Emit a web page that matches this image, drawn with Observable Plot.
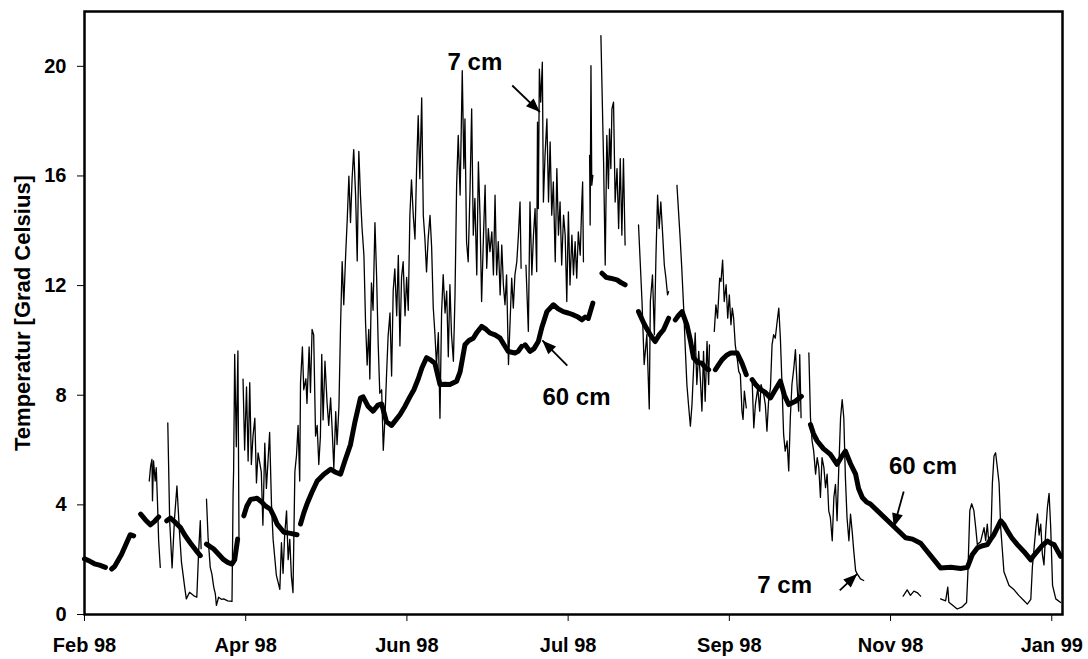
<!DOCTYPE html>
<html><head><meta charset="utf-8">
<script src="https://cdn.jsdelivr.net/npm/d3@7"></script>
<script src="https://cdn.jsdelivr.net/npm/@observablehq/plot@0.6"></script>
<style>
body{margin:0;background:#fff;}
#chart svg{display:block;}
</style></head><body><div id="chart"></div>
<script>
// ---- data (x = days after the start date, y = temperature in °C; null = no data) ----
const startDate = "1998-02-01";
const endDay = 364;
const xTickDays = [0, 60, 120, 180, 240, 300, 360];
const xTickLabels = ["Feb 98", "Apr 98", "Jun 98", "Jul 98", "Sep 98", "Nov 98", "Jan 99"];
const yTicks = [0, 4, 8, 12, 16, 20];
const yTitle = "Temperatur [Grad Celsius]";

// 7 cm depth (thin line)
const depth7cm = [
[24.1,4.87],[24.6,5.4],[25.1,5.66],[25.3,4.15],[25.7,5.6],[26.3,4.87],[26.7,5.36],[27.2,4.0],[27.6,2.69],[28.2,1.72],null,
[31.0,6.99],[31.7,3.42],[32.6,1.7],[33.5,3.5],[34.4,4.69],[35.4,2.93],[36.1,1.9],[37.3,0.99],[37.9,0.57],[39.1,0.81],[40.6,0.69],[41.8,0.63],[42.5,2.33],[43.1,3.42],[43.4,2.4],null,
[45.4,4.21],[46.0,2.8],[46.8,1.72],[47.4,1.48],[48.1,1.0],[48.7,0.75],[49.1,0.33],[49.9,0.63],[51.1,0.55],[51.8,0.57],[53.3,0.5],[54.9,0.48],[55.3,4.39],[55.5,5.24],[55.9,9.49],[56.5,6.12],[57.1,9.62],[57.5,2.74],null,
[59.0,8.59],[59.6,6.0],[60.3,8.3],[60.9,5.6],[61.5,8.46],[62.1,5.47],[62.7,6.5],[63.4,7.16],[64.0,4.8],[64.6,5.9],[65.8,5.2],[66.4,3.26],[67.1,6.25],[67.7,4.6],[68.3,5.6],[68.9,6.64],[69.6,4.0],[70.2,2.74],[71.4,1.44],[72.7,0.92],[73.3,2.62],[73.9,1.5],[74.5,2.9],[75.2,3.78],[75.8,2.0],[76.4,2.74],[77.0,1.4],[77.6,0.8],[78.3,5.21],[78.9,5.8],[79.5,6.9],[80.1,4.87],[80.4,8.46],[81.1,9.76],[81.6,8.2],[82.4,8.6],[82.8,7.7],[83.6,9.76],[84.1,8.1],[84.7,10.4],[85.3,10.2],[86.0,6.51],[86.6,6.9],[87.2,5.47],[87.8,6.5],[88.3,9.49],[88.8,7.1],[89.5,9.24],[90.3,7.7],[90.9,6.9],[91.6,7.9],[92.2,6.7],[92.8,5.34],[93.5,7.4],[94.0,6.2],[94.7,7.6],[95.3,10.53],[95.9,12.87],[96.5,11.3],[97.2,13.13],[97.8,14.43],[98.4,15.99],[99.0,14.3],[99.6,15.9],[100.2,16.96],[100.9,15.3],[101.5,12.9],[102.1,16.9],[102.7,15.3],[103.3,14.1],[104.0,13.1],[104.6,10.66],[105.2,9.1],[105.8,10.4],[106.2,8.59],[106.8,12.1],[107.4,11.1],[108.1,14.3],[108.7,12.4],[109.3,9.9],[109.9,8.07],[110.6,8.2],[111.2,5.99],[111.8,7.1],[112.4,8.7],[113.0,10.15],[113.7,11.0],[114.3,8.7],[114.9,11.83],[115.5,12.61],[116.2,10.9],[116.8,13.1],[117.4,9.8],[118.0,12.3],[118.6,12.87],[119.3,10.9],[119.9,12.3],[120.5,11.1],[121.1,14.56],[121.7,15.86],[122.4,14.5],[123.0,13.7],[123.6,16.25],[124.2,18.2],[124.8,15.9],[125.5,18.85],[126.1,14.56],[126.7,13.7],[127.3,12.5],[127.9,13.7],[128.6,14.56],[129.2,13.4],[129.8,11.2],[130.4,10.28],[131.0,9.1],[131.7,10.28],[132.3,7.16],[132.9,11.0],[133.5,12.4],[134.2,11.0],[134.8,11.8],[135.4,9.4],[136.0,12.03],[136.6,10.21],[137.3,9.24],[137.9,11.66],[138.5,15.66],[139.1,17.48],[139.8,15.3],[140.6,19.84],[141.2,16.27],[141.6,18.08],[142.2,13.6],[142.8,12.87],[143.5,15.54],[144.1,18.45],[144.7,13.84],[145.3,15.18],[146.0,12.39],[146.6,16.51],[147.2,14.57],[147.8,11.42],[148.5,13.84],[149.1,15.66],[149.7,12.63],[150.3,14.08],[150.9,13.24],[151.6,13.96],[152.2,12.39],[152.8,15.3],[153.4,12.39],[154.0,13.6],[154.7,11.66],[155.3,13.48],[155.9,12.03],[156.5,11.3],[157.1,12.39],[157.8,9.12],[158.4,10.69],[159.0,12.27],[159.6,11.18],[160.2,12.39],[160.9,12.87],[161.5,13.84],[162.1,15.05],[162.5,12.63],null,
[164.3,12.75],[165.2,10.33],[165.8,15.05],[166.5,12.39],[167.1,13.84],[167.7,14.81],[168.3,12.51],[168.6,17.96],[168.9,14.81],[169.3,19.9],[169.8,18.69],[170.4,20.15],[170.8,15.05],[171.4,16.75],[172.1,18.08],[172.7,15.05],[173.3,17.24],[173.9,14.57],[174.5,15.78],[175.2,12.87],[175.8,16.27],[176.4,13.84],[177.0,15.05],[177.6,12.75],[178.3,14.57],[178.9,13.84],[179.5,11.42],[180.1,14.69],[180.7,12.02],[181.4,13.84],[182.0,12.39],[182.6,13.6],[183.2,12.27],[183.8,13.96],[184.5,13.11],[185.1,15.05],[185.4,15.78],[185.7,12.87],null,
[188.0,16.75],[188.2,14.21],[188.5,20.02],[188.8,15.66],[189.2,16.02],null,
[192.2,21.12],[193.2,16.51],[193.8,12.75],[194.4,17.48],[195.0,15.54],[195.4,17.72],[195.9,16.27],[196.3,18.45],[196.9,18.69],[197.5,15.05],[198.2,16.27],[198.8,14.08],[199.4,16.63],[200.0,13.84],[200.6,16.63],[201.2,13.48],null,
[206.2,14.21],[207.5,11.42],[208.3,9.12],[209.3,10.21],[210.2,7.5],[210.6,11.42],[211.4,12.39],[212.1,10.21],[212.7,13.11],[213.3,15.3],[213.9,14.08],[214.5,15.05],[215.2,13.84],[215.8,12.75],[216.4,12.27],[217.0,11.66],[217.4,11.78],null,
[220.5,15.66],[221.1,14.69],[221.7,13.72],[222.3,12.63],[223.0,11.18],[223.6,9.72],[224.2,8.39],[224.8,7.66],[225.5,6.87],[226.1,7.66],[226.7,8.99],[227.3,10.27],[227.9,8.39],[228.6,9.6],[229.2,8.63],[229.8,7.42],[230.4,9.6],[231.0,7.78],[231.7,9.96],[232.3,8.39],[232.6,9.84],null,
[234.4,10.33],[235.0,11.3],[235.6,10.81],[236.4,12.27],[236.9,12.15],[237.5,12.93],[238.1,11.42],[238.8,12.03],[239.4,10.81],[240.0,11.66],[240.6,10.57],[241.1,11.18],[241.6,10.81],[242.2,9.84],[242.9,9.36],[243.5,8.87],[244.1,8.75],[244.7,7.42],[245.1,7.12],[245.6,8.15],[246.3,7.54],null,
[248.5,8.51],[249.1,6.81],[249.7,7.66],[250.6,8.27],[251.3,7.42],[251.8,8.39],[252.8,8.03],[253.4,7.66],[254.0,6.69],[254.6,7.78],[255.3,8.27],[255.9,9.84],[256.5,10.21],[257.1,10.08],[257.8,10.69],[258.4,11.18],[259.0,10.08],[259.6,8.39],[260.2,6.57],[260.8,5.96],[261.5,6.33],[262.1,5.24],[262.7,7.18],[263.3,8.39],[264.0,8.99],[264.6,9.66],[265.2,8.39],[265.8,7.42],[266.2,9.48],[266.7,7.18],null,
[269.6,9.54],[270.2,7.18],[270.8,6.33],[271.4,5.96],[272.1,5.12],[272.7,5.72],[273.3,5.36],[273.9,4.27],[274.5,5.72],[275.2,5.36],[275.8,4.63],[276.4,5.12],[277.0,3.78],[277.6,3.54],[278.3,2.69],[278.9,4.27],[279.5,4.75],[280.1,3.42],[280.7,5.24],[281.4,7.18],[282.0,7.84],[282.6,7.18],[283.2,4.99],[283.8,3.54],[284.5,2.69],[285.1,3.66],[285.7,3.05],[286.3,2.33],[287.0,1.6],[287.6,1.48],[288.8,1.3],[290.0,1.24],null,
[304.7,0.67],[306.2,0.9],[307.4,0.7],[308.7,0.85],[309.9,0.8],[311.2,0.67],null,
[318.6,0.57],[320.5,0.5],[321.3,1.0],[321.7,0.45],[323.0,0.35],[324.8,0.2],[326.7,0.28],[328.3,0.44],[328.8,1.56],[329.5,3.79],[330.2,4.04],[331.0,3.8],[331.7,3.17],[332.3,2.55],[333.5,2.65],[334.8,3.17],[335.4,2.7],[336.0,3.3],[336.6,2.6],[337.3,2.7],[337.9,4.79],[338.5,5.78],[339.1,5.9],[339.7,5.4],[340.4,4.79],[341.0,3.17],[342.2,1.56],[344.1,1.06],[346.0,0.9],[347.8,0.69],[349.7,0.5],[350.9,0.38],[352.2,0.55],[352.8,1.74],[353.4,2.4],[354.1,3.17],[354.7,3.67],[355.3,2.9],[355.9,3.3],[356.5,2.2],[357.1,1.81],[357.8,3.1],[358.4,3.92],[359.0,4.42],[359.6,3.2],[360.3,1.06],[361.5,0.57],[363.3,0.44]
];

// 60 cm depth (thick line)
const depth60cm = [
[0,2.03],[1.9,1.95],[3.7,1.85],[5.6,1.8],[7.8,1.72],null,
[10.1,1.66],[11.2,1.75],[13.8,2.2],[17.0,2.91],[18.3,2.87],null,
[20.9,3.66],[22.7,3.45],[24.5,3.27],[26.1,3.4],[27.6,3.56],null,
[30.6,3.42],[32.0,3.52],[33.9,3.35],[35.7,3.17],[37.3,2.9],[39.4,2.61],[41.4,2.35],[43.1,2.15],null,
[45.4,2.57],[48.1,2.39],[49.9,2.2],[51.8,2.0],[53.3,1.9],[54.9,1.84],[55.9,2.0],[57.0,2.75],null,
[59.3,3.6],[60.4,3.95],[61.8,4.2],[64.2,4.24],[66.0,4.1],[67.3,3.96],[69.2,3.84],[70.4,3.6],[71.7,3.3],[74.2,3.0],[76.7,2.96],[79.1,2.91],null,
[80.4,3.3],[81.6,3.7],[82.8,4.03],[84.6,4.45],[86.6,4.87],[89.1,5.12],[91.6,5.3],[93.2,5.2],[95.3,5.12],[96.9,5.6],[99.0,6.2],[100.6,7.0],[102.7,7.9],[103.7,7.94],[105.5,7.6],[107.4,7.42],[109.2,7.64],[110.6,7.68],[112.4,7.03],[114.3,6.9],[115.9,7.1],[117.4,7.29],[119.3,7.6],[121.1,7.94],[122.6,8.2],[124.2,8.59],[125.6,9.0],[127.3,9.37],[128.6,9.3],[130.4,9.17],[132.3,8.39],[134.2,8.4],[136.0,8.39],[138.5,8.51],[139.8,8.85],[141.6,9.84],[143.1,10.0],[144.7,10.08],[146.1,10.3],[147.8,10.51],[149.5,10.4],[150.9,10.27],[152.8,10.2],[154.7,10.08],[156.1,9.85],[157.7,9.6],[160.2,9.54],[161.4,9.6],[162.7,9.78],null,
[164.0,9.84],[165.8,9.6],[167.3,9.7],[168.9,9.96],[170.3,10.5],[172.1,11.05],[174.5,11.3],[176.3,11.15],[178.2,11.05],[180.0,11.0],[182.0,10.93],[183.7,10.85],[185.1,10.75],[186.3,10.85],null,
[187.5,10.8],[189.2,11.36],null,
[192.6,12.45],[194.2,12.3],[195.7,12.27],[198.2,12.21],[199.8,12.1],[201.2,12.03],null,
[206.2,11.05],[208.3,10.6],[210.6,10.2],[212.4,9.96],[213.9,10.2],[215.5,10.39],[217.4,10.81],null,
[219.9,10.75],[221.0,10.9],[222.4,11.05],[224.2,10.57],[225.5,10.0],[226.7,9.36],[228.1,9.2],[229.8,9.17],[231.1,9.0],[232.3,8.93],null,
[234.8,8.93],[235.9,9.1],[237.3,9.3],[238.9,9.45],[240.4,9.54],[242.9,9.54],[244.7,9.17],[246.3,8.75],null,
[248.5,8.57],[249.7,8.4],[251.5,8.21],[253.4,8.1],[255.3,7.9],[257.1,8.2],[259.0,8.51],[260.5,8.0],[262.1,7.66],[264.6,7.78],[266.8,7.96],null,
[270.2,6.93],[271.3,6.6],[272.7,6.33],[275.0,6.05],[277.6,5.84],[280.1,5.48],[281.7,5.75],[283.2,5.96],[285.1,5.5],[287.0,5.12],[288.1,4.6],[289.5,4.27],[291.1,4.1],[292.5,4.03],[305.6,2.8],[308.2,2.75],[311.2,2.6],[318.6,1.7],[322.4,1.72],[326.1,1.68],[328.6,1.72],[330.4,2.18],[332.3,2.43],[333.9,2.5],[336.0,2.55],[337.3,2.75],[338.5,2.92],[339.9,3.2],[341.0,3.42],[342.1,3.3],[343.5,3.05],[345.1,2.8],[347.2,2.55],[349.6,2.3],[352.2,1.99],[353.3,2.15],[354.7,2.31],[356.3,2.5],[358.4,2.68],[359.6,2.6],[360.9,2.55],[362.3,2.3],[363.3,2.12]
];

// annotations (positions in data units: day, °C)
const labelTexts = ["7 cm", "60 cm", "60 cm", "7 cm"];
const labelDays  = [145.3, 183.1, 312.1, 260.6];
const labelTemps = [20.13, 7.92, 5.42, 1.06];
const arrowFromDays  = [159.2, 179.7, 304.9, 281.1];
const arrowFromTemps = [19.30, 9.08, 4.49, 0.88];
const arrowToDays    = [169.5, 170.4, 301.2, 287.6];
const arrowToTemps   = [18.33, 10.0, 3.18, 1.48];

// ---- build ----
const t0 = new Date(startDate + "T00:00:00Z");
const toDate = d => new Date(t0.getTime() + d * 864e5);
const rows = pairs => pairs.map(p => p ? {date: toDate(p[0]), temp: p[1]} : {date: null, temp: null});
const rows7 = rows(depth7cm);
const rows60 = rows(depth60cm);
const xTickDates = xTickDays.map(toDate);
const tickLabelOf = new Map(xTickDates.map((d, i) => [+d, xTickLabels[i]]));
const labels = labelTexts.map((t, i) => ({text: t, date: toDate(labelDays[i]), temp: labelTemps[i]}));
const arrows = arrowFromDays.map((d, i) => ({
  x1: toDate(d), y1: arrowFromTemps[i], x2: toDate(arrowToDays[i]), y2: arrowToTemps[i]
}));

// filled arrowheads added at the scaled end of each link
function arrowHeads(index, scales, values, dimensions, context, next) {
  const g = next(index, scales, values, dimensions, context);
  const doc = (context && context.document) || document;
  const ns = "http://www.w3.org/2000/svg";
  const L = 14, W = 5.5;
  for (const i of index) {
    const x1 = values.x1[i], y1 = values.y1[i], x2 = values.x2[i], y2 = values.y2[i];
    const a = Math.atan2(y2 - y1, x2 - x1);
    const c = Math.cos(a), s = Math.sin(a);
    const bx = x2 - L * c, by = y2 - L * s;
    const pts = [[x2, y2], [bx + W * s, by - W * c], [bx - W * s, by + W * c]];
    const p = doc.createElementNS(ns, "polygon");
    p.setAttribute("points", pts.map(q => q.join(",")).join(" "));
    p.setAttribute("fill", "black");
    p.setAttribute("stroke", "none");
    g.appendChild(p);
  }
  return g;
}

const font = '"Liberation Sans", Arial, Helvetica, sans-serif';

const chart = Plot.plot({
  width: 1088,
  height: 659,
  marginLeft: 84,
  marginRight: 26,
  marginTop: 11,
  marginBottom: 45,
  style: {fontFamily: font, color: "black", background: "white", overflow: "visible"},
  x: {type: "utc", domain: [toDate(0), toDate(endDay)]},
  y: {domain: [0, 22]},
  marks: [
    Plot.axisY(yTicks, {tickSize: 7, tickPadding: 11, fontSize: 20, fontWeight: "bold", label: null, tickFormat: d => String(d)}),
    Plot.axisX(xTickDates, {tickSize: 7, tickPadding: 16, fontSize: 20, fontWeight: "bold", label: null, tickFormat: d => tickLabelOf.get(+d)}),
    Plot.text([yTitle], {frameAnchor: "left", textAnchor: "middle", lineAnchor: "middle", dx: -62, rotate: -90, fontSize: 22, fontWeight: "bold", fill: "black"}),
    Plot.line(rows7, {x: "date", y: "temp", stroke: "black", strokeWidth: 1.3, strokeLinejoin: "round"}),
    Plot.line(rows60, {x: "date", y: "temp", stroke: "black", strokeWidth: 5, strokeLinecap: "round", strokeLinejoin: "round"}),
    Plot.link(arrows, {x1: "x1", y1: "y1", x2: "x2", y2: "y2", stroke: "black", strokeWidth: 1.8, render: arrowHeads}),
    Plot.text(labels, {x: "date", y: "temp", text: "text", fontSize: 24, fontWeight: "bold", fill: "black"}),
    Plot.frame({stroke: "black", strokeWidth: 2.5})
  ]
});
document.getElementById("chart").append(chart);
</script>
</body></html>
